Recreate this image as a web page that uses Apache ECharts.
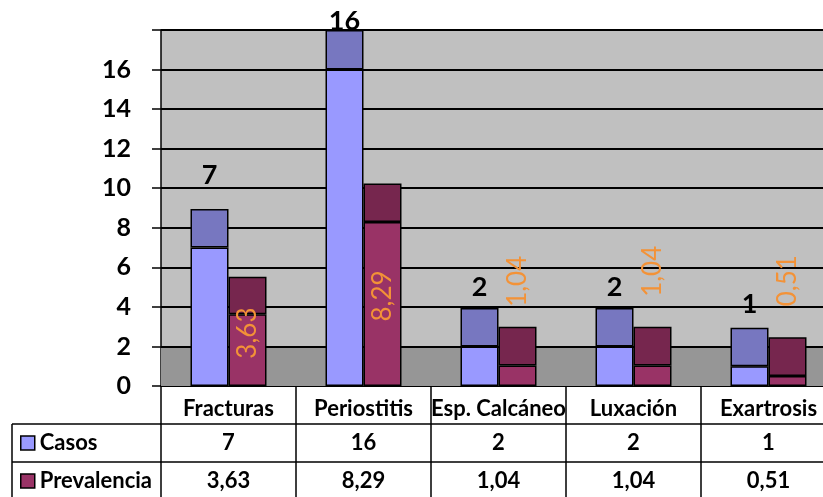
<!DOCTYPE html>
<html>
<head>
<meta charset="utf-8">
<script src="https://cdn.jsdelivr.net/npm/echarts@6/dist/echarts.min.js"></script>
<style>
  html, body { margin: 0; padding: 0; background: #fff; }
  #chart { width: 823px; height: 497px; }
</style>
</head>
<body>
<div id="chart"></div>
<script>
// datos
const categories = ['Fracturas', 'Periostitis', 'Esp. Calcáneo', 'Luxación', 'Exartrosis']
const casos = [7, 16, 2, 2, 1]
const prevalencia = [3.63, 8.29, 1.04, 1.04, 0.51]
// alto de la tapa 3D que se ve encima de cada barra
const tapaCasos = [1.95, 2, 1.95, 1.95, 1.95]
const tapaPrev = [1.9, 1.95, 1.95, 1.95, 1.95]
// suelo gris oscuro del 3D
const sueloAlto = 1.92
const yMax = 18
const yPaso = 2

// separacion de las etiquetas (solo estilo)
const subidaCasos = [20, -5, 7, 7, 10]
const subidaPrev = [0, 0, 20, 30, 31]
const ajustePrevDentro = [17, 8, 0, 0, 0]

const fuente = 'Lato'
const naranja = '#f39237'

function coma (v) {
  return String(v).replace('.', ',')
}

function ejeTabla (offset, margen, formato) {
  return {
    type: 'category',
    data: categories,
    position: 'bottom',
    offset: offset,
    axisLine: { show: true, lineStyle: { color: '#000', width: 1.5 } },
    axisTick: { show: true, length: 38, lineStyle: { color: '#000', width: 1.5 } },
    axisLabel: {
      interval: 0,
      margin: margen,
      verticalAlign: 'middle',
      formatter: formato,
      fontFamily: fuente,
      fontWeight: 'bold',
      fontSize: 22,
      color: '#000'
    },
    splitLine: { show: false }
  }
}

function leyenda (nombre, arriba) {
  return {
    data: [nombre],
    left: 20,
    top: arriba,
    padding: 0,
    itemWidth: 14,
    itemHeight: 14,
    icon: 'rect',
    itemStyle: { borderColor: '#000', borderWidth: 1.5 },
    textStyle: {
      fontFamily: fuente,
      fontWeight: 'bold',
      fontSize: 22,
      lineHeight: 22,
      color: '#000'
    }
  }
}

const chart = echarts.init(document.getElementById('chart'))

const borde = { borderColor: '#000', borderWidth: 1.5 }

chart.setOption({
  animation: false,
  backgroundColor: '#fff',
  grid: {
    left: 161,
    top: 30,
    width: 675,
    height: 356,
    outerBoundsMode: 'none',
    containLabel: false,
    show: true,
    backgroundColor: '#c0c0c0',
    borderWidth: 0
  },
  legend: [
    leyenda('Casos', 432),
    leyenda('Prevalencia', 470)
  ],
  xAxis: [
    ejeTabla(0, 23, v => v),
    ejeTabla(38, 19, (v, i) => String(casos[i])),
    ejeTabla(76, 19, (v, i) => coma(prevalencia[i]))
  ],
  yAxis: {
    type: 'value',
    min: 0,
    max: yMax,
    interval: yPaso,
    axisLine: { show: true, lineStyle: { color: '#000', width: 1.5 } },
    axisTick: { show: true, length: 9, lineStyle: { color: '#000', width: 1.5 } },
    splitLine: { show: true, lineStyle: { color: '#000', width: 2 } },
    axisLabel: {
      margin: 30,
      formatter: v => (v >= yMax ? '' : v),
      fontFamily: fuente,
      fontWeight: 'bold',
      fontSize: 25,
      color: '#000'
    }
  },
  graphic: [
    { type: 'line', shape: { x1: 12, y1: 424, x2: 161, y2: 424 }, style: { stroke: '#000', lineWidth: 1.5 } },
    { type: 'line', shape: { x1: 12, y1: 462, x2: 161, y2: 462 }, style: { stroke: '#000', lineWidth: 1.5 } },
    { type: 'line', shape: { x1: 12, y1: 424, x2: 12, y2: 497 }, style: { stroke: '#000', lineWidth: 1.5 } }
  ],
  series: [
    {
      // suelo del 3D
      name: 'suelo',
      type: 'line',
      data: [],
      z: 1,
      silent: true,
      markArea: {
        silent: true,
        itemStyle: { color: '#969696' },
        data: [[{ yAxis: 0 }, { yAxis: sueloAlto }]]
      }
    },
    {
      name: 'Casos',
      type: 'bar',
      stack: 'casos',
      barWidth: 38,
      barGap: '0%',
      itemStyle: Object.assign({ color: '#9999ff' }, borde),
      data: casos
    },
    {
      name: 'tapaCasos',
      type: 'bar',
      stack: 'casos',
      barWidth: 38,
      itemStyle: Object.assign({ color: '#7777c0' }, borde),
      label: {
        show: true,
        position: 'top',
        formatter: p => String(casos[p.dataIndex]),
        fontFamily: fuente,
        fontWeight: 'bold',
        fontSize: 27,
        color: '#000'
      },
      data: tapaCasos.map((v, i) => ({ value: v, label: { distance: subidaCasos[i] } }))
    },
    {
      name: 'Prevalencia',
      type: 'bar',
      stack: 'prev',
      barWidth: 38,
      itemStyle: Object.assign({ color: '#993366' }, borde),
      label: {
        position: 'inside',
        rotate: 90,
        formatter: p => coma(prevalencia[p.dataIndex]),
        fontFamily: fuente,
        fontSize: 26,
        color: naranja
      },
      data: prevalencia.map((v, i) => ({
        value: v,
        label: { show: v > 3, offset: [ajustePrevDentro[i], 0] }
      }))
    },
    {
      name: 'tapaPrev',
      type: 'bar',
      stack: 'prev',
      barWidth: 38,
      itemStyle: Object.assign({ color: '#76264e' }, borde),
      label: {
        position: 'top',
        rotate: 90,
        align: 'left',
        verticalAlign: 'middle',
        formatter: p => coma(prevalencia[p.dataIndex]),
        fontFamily: fuente,
        fontSize: 26,
        color: naranja
      },
      data: tapaPrev.map((v, i) => ({
        value: v,
        label: { show: prevalencia[i] <= 3, distance: subidaPrev[i] }
      }))
    }
  ]
})
</script>
</body>
</html>
